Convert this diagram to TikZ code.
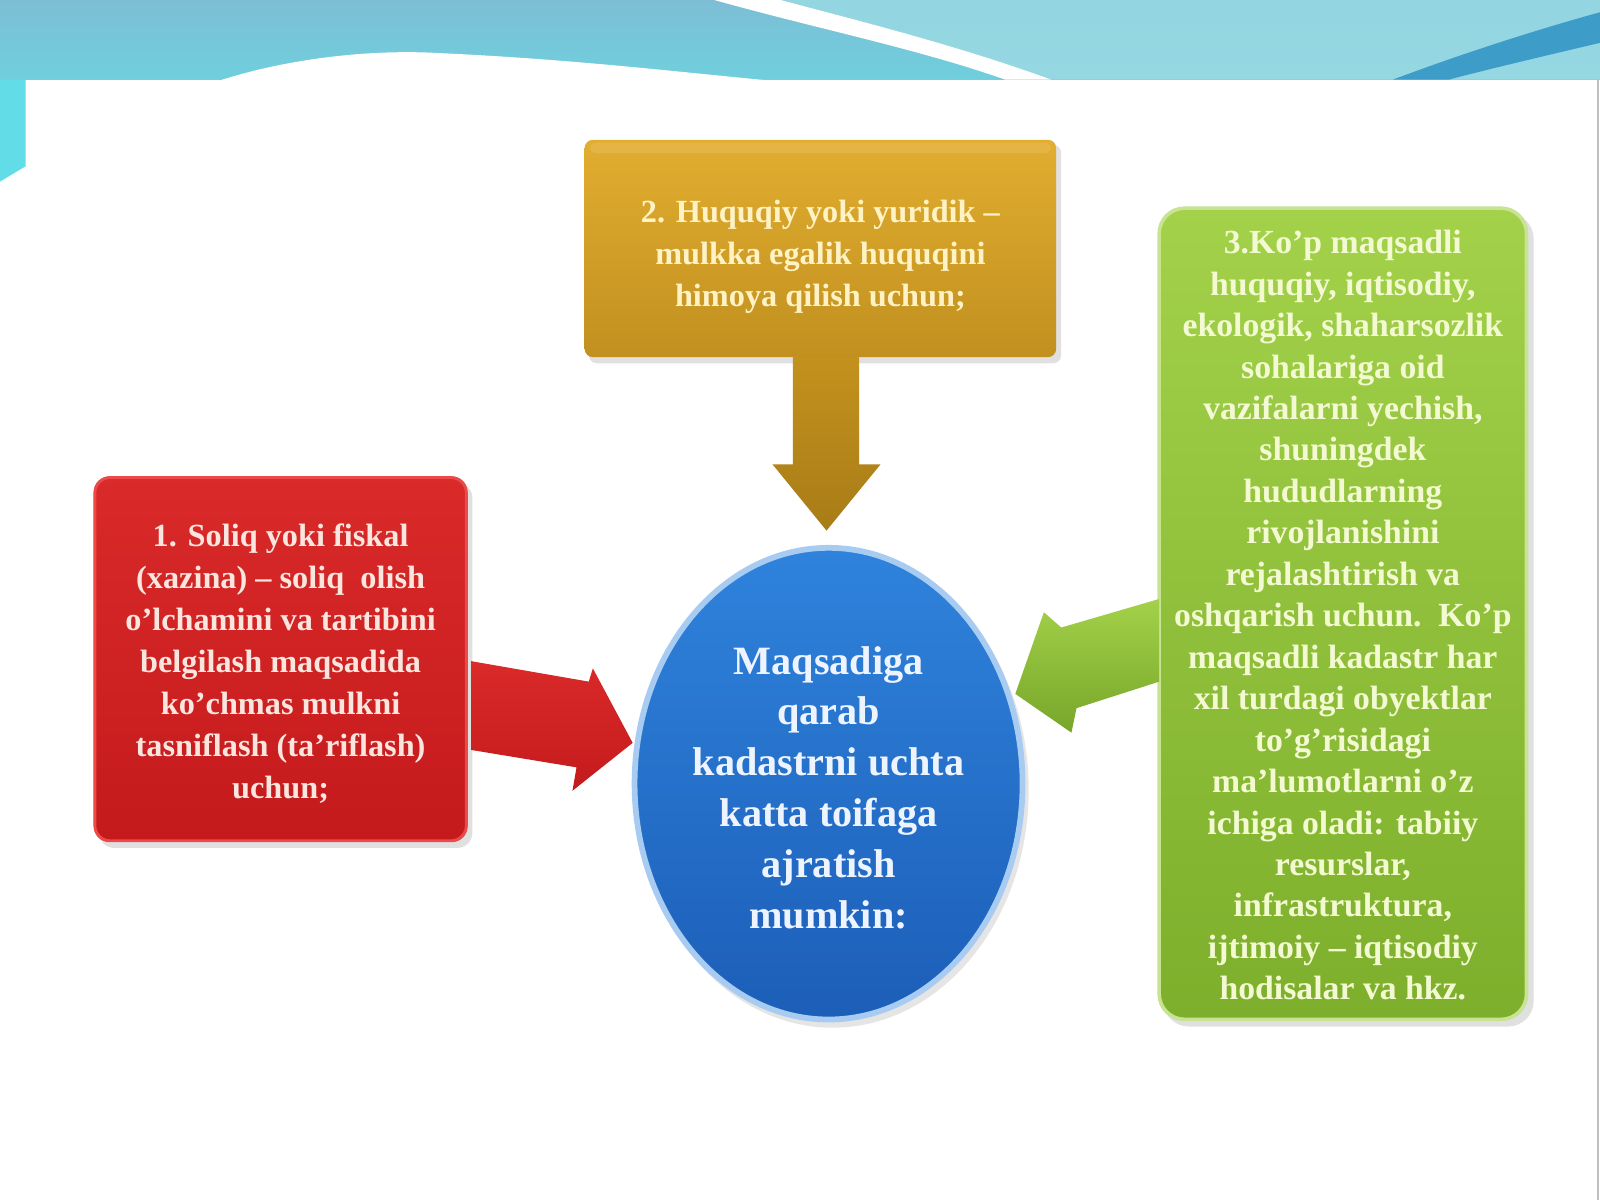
\documentclass[tikz,border=0pt]{standalone}
\usepackage{fontspec}
\setmainfont{Liberation Serif}
\usetikzlibrary{shapes.geometric}
\definecolor{bandTop}{HTML}{7DBED5}
\definecolor{bandBot}{HTML}{6FCFDD}
\definecolor{bandLight}{HTML}{95D8E2}
\definecolor{streak}{HTML}{3E9CC8}
\definecolor{stripC}{HTML}{62DCE6}
\definecolor{goldTop}{HTML}{E2AE30}
\definecolor{goldBot}{HTML}{C1901F}
\definecolor{goldArr}{HTML}{C3911D}
\definecolor{goldArrB}{HTML}{A87C17}
\definecolor{redTop}{HTML}{DA2A2A}
\definecolor{redBot}{HTML}{C41A1C}
\definecolor{greenTop}{HTML}{A3D14A}
\definecolor{greenBot}{HTML}{7DAF2C}
\definecolor{blueTop}{HTML}{2F83DC}
\definecolor{blueBot}{HTML}{1C5EB8}
\definecolor{blueRim}{HTML}{A8CBF2}
\definecolor{txtRed}{HTML}{FBE6DF}
\definecolor{txtGold}{HTML}{FFF2C4}
\definecolor{txtGreen}{HTML}{F3FAD2}
\definecolor{txtBlue}{HTML}{EEF4FF}
\tikzset{
  boxshadow/.style={fill=black!12},
  smalltext/.style={font=\fontsize{9}{11.7}\selectfont\bfseries, align=center, inner sep=0pt},
  greentext/.style={font=\fontsize{9.4}{11.55}\selectfont\bfseries, align=center, inner sep=0pt},
  bigtext/.style={font=\fontsize{11.2}{14.2}\selectfont\bfseries, align=center, inner sep=0pt},
}
\begin{document}
\begin{tikzpicture}[x=0.01cm,y=-0.01cm]
\useasboundingbox (0,0) rectangle (1568,1176);
\fill[white] (0,0) rectangle (1568,1176);
% ---- top banner ----
\shade[top color=bandTop, bottom color=bandBot] (0,0) rectangle (1568,78);
\fill[stripC] (0,78) -- (25,78) -- (25,163) -- (0,178) -- cycle;
\shade[top color=bandLight!90!bandTop, bottom color=bandLight] (765,0) -- (1568,0) -- (1568,78) -- (1030,78)
   .. controls (940,45) and (840,20) .. (765,0) -- cycle;
\fill[white] (700,0) .. controls (800,28) and (900,48) .. (985,78) -- (1030,78)
   .. controls (940,45) and (840,20) .. (765,0) -- cycle;
\fill[white] (215,79) .. controls (280,58) and (360,48) .. (430,52)
   .. controls (560,58) and (660,70) .. (755,79) -- cycle;
\fill[streak] (1365,78) .. controls (1440,50) and (1510,28) .. (1568,12) -- (1568,42)
   .. controls (1500,58) and (1450,70) .. (1420,78) -- cycle;
\fill[white] (25,78) rectangle (1545,1176);
\draw[black!25, line width=0.6pt] (1566,78) -- (1566,1176);
% ---- gold box and arrow ----
\fill[boxshadow, rounded corners=0.08cm] (577,142) rectangle (1040,356);
\shade[top color=goldTop, bottom color=goldBot, rounded corners=0.08cm] (573,137) rectangle (1035,350);
\fill[goldTop!70!white, opacity=0.35, rounded corners=0.06cm] (578,140) rectangle (1030,150);
\node[smalltext, text=txtGold] (gold) at (804,252) {2. Huquqiy yoki yuridik –\\mulkka egalik huquqini\\himoya qilish uchun;};
\shade[top color=goldArr, bottom color=goldArrB] (777,350) -- (842,350) -- (842,455) -- (863,455) -- (810,520)
   -- (757,455) -- (777,455) -- cycle;
% ---- red box and arrow ----
\fill[boxshadow, rounded corners=0.15cm] (97,473) rectangle (463,831);
\shade[top color=redTop, bottom color=redBot, rounded corners=0.15cm] (92,467) rectangle (458,825);
\draw[red!35!redTop!80!white, line width=0.8pt, rounded corners=0.15cm] (93,468) rectangle (457,824);
\node[smalltext, text=txtRed] (red) at (275,650) {1. Soliq yoki fiskal\\(xazina) – soliq\ \ olish\\o’lchamini va tartibini\\belgilash maqsadida\\ko’chmas mulkni\\tasniflash (ta’riflash)\\uchun;};
\shade[top color=redTop, bottom color=redBot] (462,648) -- (577,668) -- (581,655) -- (620,728) -- (561,775) -- (565,752) -- (462,735) -- cycle;
% ---- green box and arrow ----
\fill[boxshadow, rounded corners=0.25cm] (1140,209) rectangle (1503,1006);
\shade[top color=greenTop, bottom color=greenBot, rounded corners=0.25cm] (1135,203) rectangle (1497,1000);
\draw[greenTop!60!white, line width=1pt, rounded corners=0.25cm] (1136,204) rectangle (1496,999);
\node[greentext, text=txtGreen] (green) at (1316,603) {3.Ko’p maqsadli\\huquqiy, iqtisodiy,\\ekologik, shaharsozlik\\sohalariga oid\\vazifalarni yechish,\\shuningdek\\hududlarning\\rivojlanishini\\rejalashtirish va\\oshqarish uchun.\ \ Ko’p\\maqsadli kadastr har\\xil turdagi obyektlar\\to’g’risidagi\\ma’lumotlarni o’z\\ichiga oladi: tabiiy\\resurslar,\\infrastruktura,\\ijtimoiy – iqtisodiy\\hodisalar va hkz.};
\shade[top color=greenTop, bottom color=greenBot!95!black] (1136,587) -- (1040,615) -- (1023,600) -- (995,680)
   -- (1050,718) -- (1055,694) -- (1136,668) -- cycle;
% ---- blue ellipse ----
\fill[black!10] (816,774) ellipse [x radius=1.92cm, y radius=2.33cm];
\shade[top color=blueTop, bottom color=blueBot] (812,768) ellipse [x radius=1.91cm, y radius=2.32cm];
\draw[blueRim, line width=1.6pt] (812,768) ellipse [x radius=1.90cm, y radius=2.31cm];
\node[bigtext, text=txtBlue] (center) at (812,772) {Maqsadiga\\qarab\\kadastrni uchta\\katta toifaga\\ajratish\\mumkin:};
\end{tikzpicture}
\end{document}
